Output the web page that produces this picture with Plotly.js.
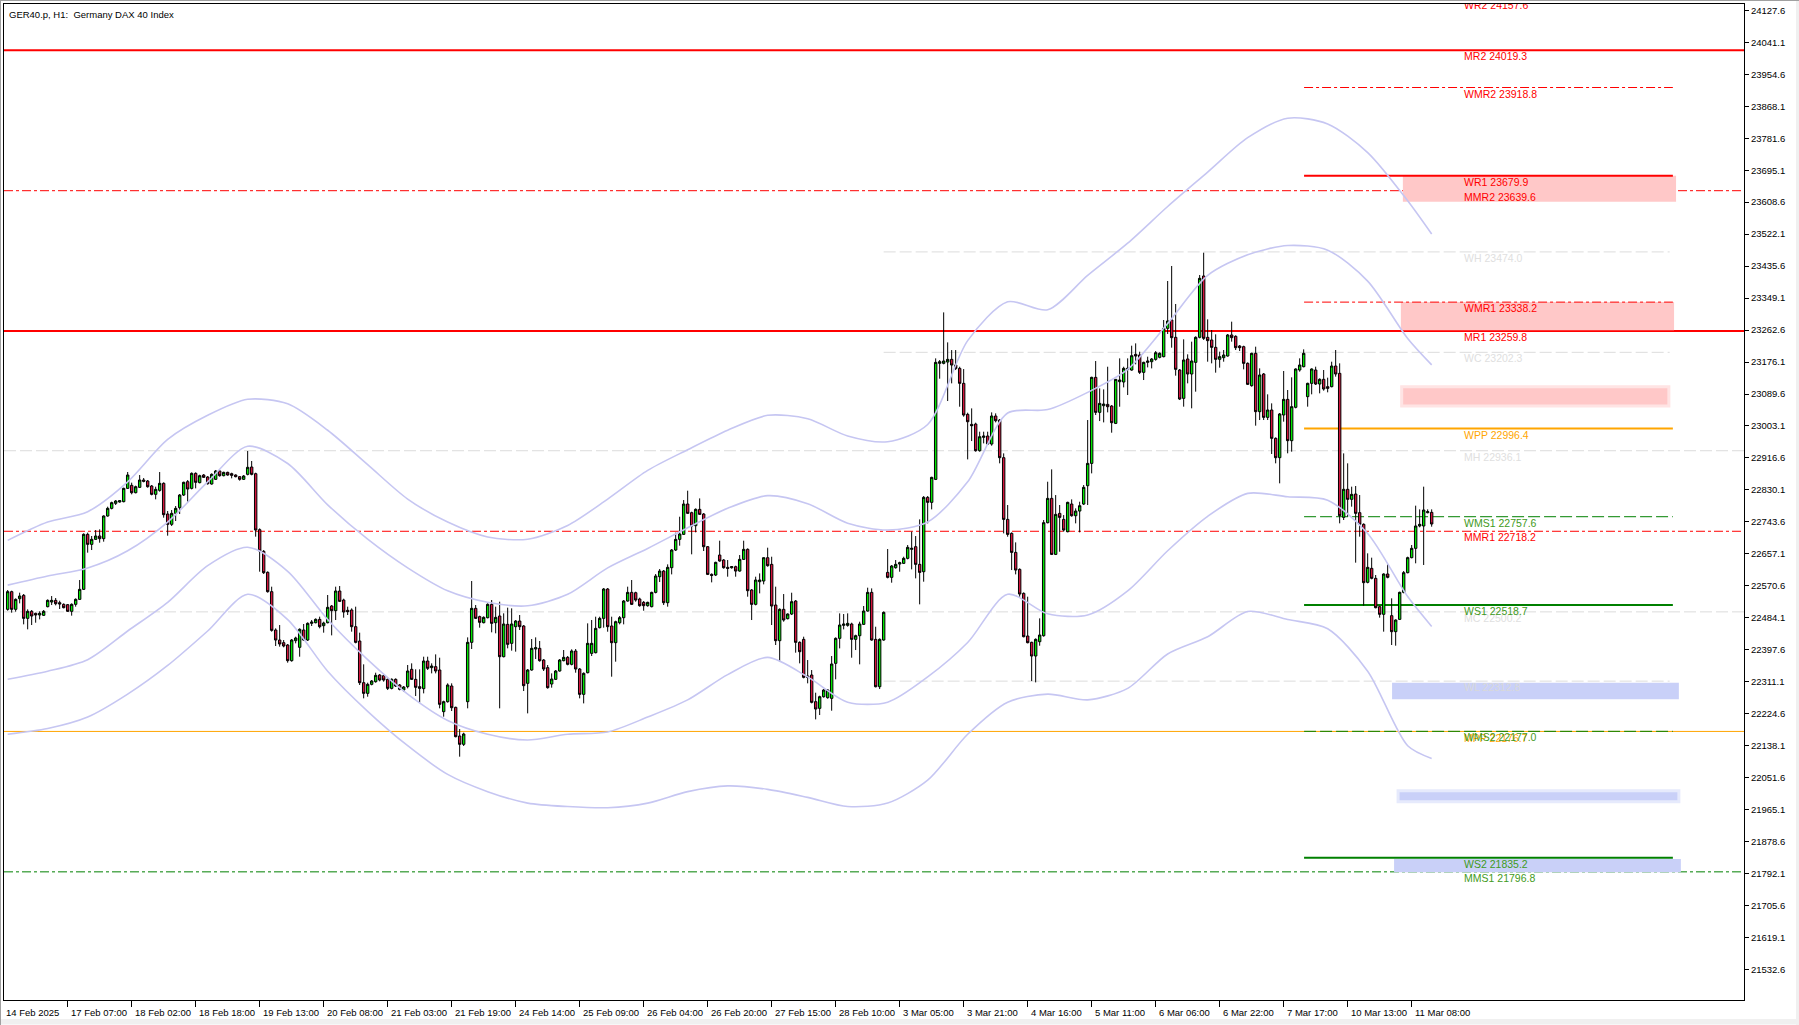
<!DOCTYPE html>
<html><head><meta charset="utf-8">
<script src="https://cdn.plot.ly/plotly-3.0.1.min.js"></script>
<style>html,body{margin:0;padding:0;background:#fff;overflow:hidden}#chart{width:1799px;height:1025px}</style>
</head><body><div id="chart"></div>
<script>
const chartTitle = "GER40.p, H1:  Germany DAX 40 Index";

const barOpen = [
22507.0,22554.8,22507.0,22535.8,22544.9,22482.6,22501.6,22496.2,22491.7,22490.8,
22514.2,22526.8,22531.3,22525.0,22520.5,22519.6,22501.6,22520.5,22534.0,22561.1,
22709.9,22682.8,22696.4,22705.4,22698.2,22759.5,22780.2,22793.8,22797.4,22798.3,
22834.3,22842.5,22822.6,22837.0,22856.9,22854.2,22840.7,22818.1,22828.9,22847.9,
22764.9,22737.0,22766.7,22782.0,22816.3,22852.4,22834.3,22874.9,22849.7,22870.4,
22865.0,22846.1,22858.7,22881.2,22868.6,22877.6,22874.0,22870.4,22865.9,22858.7,
22872.2,22892.1,22874.0,22722.5,22663.9,22607.1,22554.8,22451.1,22424.0,22416.8,
22410.5,22368.1,22422.2,22404.2,22451.1,22424.0,22469.1,22470.9,22479.9,22462.8,
22470.9,22516.0,22503.4,22556.6,22532.2,22504.3,22505.2,22460.1,22421.3,22308.6,
22279.7,22304.1,22311.3,22329.3,22327.5,22317.6,22293.2,22317.6,22302.3,22288.7,
22297.8,22344.7,22317.6,22297.8,22292.4,22367.2,22349.2,22351.9,22342.9,22230.2,
22257.2,22299.6,22241.9,22164.3,22141.8,22257.2,22417.7,22509.7,22487.2,22470.9,
22484.4,22520.5,22470.9,22489.0,22378.9,22466.4,22415.0,22460.1,22475.4,22461.9,
22306.8,22342.9,22399.7,22401.5,22369.9,22349.2,22305.0,22317.6,22340.2,22368.1,
22377.1,22358.2,22394.3,22345.5,22277.0,22335.6,22387.9,22389.7,22457.4,22482.6,
22562.0,22461.9,22416.8,22470.9,22484.4,22529.5,22552.9,22552.0,22534.9,22525.9,
22516.9,22514.2,22552.9,22595.3,22610.6,22525.0,22619.7,22667.5,22696.3,22709.9,
22791.9,22768.5,22733.3,22777.5,22764.9,22676.5,22601.6,22599.8,22653.9,22640.4,
22620.6,22619.7,22622.4,22610.6,22642.2,22669.3,22559.3,22520.5,22581.8,22583.6,
22646.7,22628.7,22518.7,22422.2,22507.0,22481.7,22494.3,22529.5,22417.7,22425.8,
22326.6,22329.3,22257.2,22239.1,22270.7,22268.0,22266.2,22360.9,22428.5,22463.7,
22463.7,22467.3,22425.8,22435.7,22466.4,22502.4,22552.9,22425.8,22297.7,22424.0,
22607.0,22593.5,22619.7,22629.6,22631.4,22644.9,22669.3,22676.5,22628.7,22608.8,
22809.9,22796.4,22858.6,23172.5,23172.5,23176.1,23183.3,23168.0,23158.9,23118.4,
23034.5,23007.4,23008.3,22936.2,22972.3,22975.9,22954.2,23030.0,23019.1,22917.3,
22750.4,22712.5,22661.1,22615.1,22550.2,22434.8,22417.7,22380.7,22419.5,22435.7,
22741.4,22807.2,22655.7,22766.6,22750.4,22717.1,22791.9,22760.3,22772.9,22791.9,
22841.5,22901.9,23134.6,23039.9,23057.9,23061.5,23057.0,23010.1,23122.9,23122.0,
23156.2,23154.4,23196.8,23195.0,23148.1,23175.2,23177.0,23183.3,23188.8,23190.6,
23267.2,23289.8,23242.9,23154.5,23077.8,23184.3,23143.7,23175.2,23242.9,23408.8,
23242.9,23235.7,23215.8,23183.4,23187.9,23192.4,23249.2,23245.6,23219.4,23217.6,
23172.5,23112.1,23199.6,23041.8,23143.7,23026.4,23046.3,22969.6,22917.3,23032.8,
23075.1,22963.3,23053.5,23154.5,23163.5,23082.4,23118.4,23154.5,23116.6,23129.3,
23109.4,23109.4,23165.3,23145.5,22755.9,22831.7,22804.6,22819.0,22768.5,22737.0,
22580.1,22617.9,22590.9,22514.2,22493.5,22602.6,22489.9,22446.6,22479.9,22553.0,
22606.2,22646.8,22672.0,22732.5,22732.5,22768.5,22769.4];

const barHigh = [
22559.3,22557.5,22536.7,22552.1,22548.5,22507.0,22505.2,22498.0,22501.6,22505.2,
22534.0,22543.0,22537.6,22530.4,22523.2,22521.4,22523.2,22536.7,22586.3,22712.6,
22714.4,22705.4,22721.6,22723.4,22761.3,22784.7,22798.3,22802.8,22802.8,22836.1,
22878.5,22849.7,22841.6,22870.4,22862.3,22856.9,22843.4,22838.8,22878.5,22850.6,
22773.0,22775.7,22786.5,22819.0,22852.4,22856.9,22877.6,22877.6,22871.3,22873.1,
22867.7,22874.9,22884.0,22883.0,22879.4,22879.4,22876.7,22872.2,22867.7,22870.4,
22935.3,22908.3,22876.7,22726.1,22667.5,22609.8,22568.3,22455.6,22464.6,22424.0,
22413.2,22426.7,22433.0,22455.6,22467.3,22471.8,22478.1,22482.6,22487.2,22473.6,
22545.8,22518.7,22568.3,22570.1,22535.8,22514.2,22509.7,22514.2,22443.9,22358.2,
22308.6,22315.8,22335.6,22332.0,22330.2,22320.3,22320.3,22320.3,22305.0,22299.6,
22356.4,22360.9,22344.7,22344.7,22378.9,22378.9,22360.9,22385.2,22376.2,22259.9,
22306.8,22306.8,22243.7,22183.2,22173.3,22431.2,22583.6,22518.7,22489.9,22488.1,
22523.2,22532.2,22514.2,22527.7,22496.2,22511.5,22509.7,22478.1,22491.7,22464.6,
22345.6,22426.7,22431.2,22421.3,22372.6,22356.4,22333.8,22342.9,22372.6,22397.0,
22380.7,22398.8,22399.7,22348.2,22336.5,22469.1,22478.1,22487.1,22487.1,22564.7,
22564.7,22487.1,22476.3,22488.9,22532.2,22568.3,22586.3,22554.7,22538.5,22529.5,
22527.7,22554.7,22602.5,22616.1,22613.4,22628.7,22670.2,22714.4,22757.6,22802.7,
22828.0,22771.2,22780.2,22807.2,22767.6,22678.3,22604.3,22635.9,22692.7,22643.1,
22640.4,22624.2,22625.1,22653.9,22692.7,22672.0,22562.0,22595.3,22604.3,22647.6,
22673.8,22649.4,22568.3,22509.7,22548.4,22496.1,22552.0,22532.2,22420.4,22433.0,
22369.9,22342.8,22281.5,22273.4,22291.4,22291.4,22380.7,22431.2,22496.1,22494.3,
22496.1,22470.9,22438.4,22473.6,22516.0,22565.6,22563.7,22460.0,22428.5,22501.5,
22670.2,22626.9,22640.4,22635.9,22649.4,22681.0,22717.1,22705.3,22750.4,22813.5,
22813.5,22865.8,23186.0,23181.5,23310.4,23229.3,23208.5,23208.5,23163.4,23157.1,
23039.0,23050.7,23012.0,22987.6,22987.6,22987.6,23039.9,23037.2,23021.9,22929.0,
22789.2,22715.3,22688.2,22617.9,22552.9,22541.2,22419.5,22428.5,22482.6,22748.6,
22852.3,22885.7,22816.2,22789.2,22762.1,22798.2,22804.5,22780.2,22798.2,22843.3,
23019.2,23136.4,23178.8,23104.8,23102.1,23163.4,23059.7,23130.1,23186.0,23163.4,
23186.0,23220.3,23226.6,23204.0,23177.0,23190.5,23186.9,23205.8,23202.3,23289.8,
23395.3,23435.9,23333.1,23157.2,23237.5,23196.9,23231.2,23245.6,23411.5,23471.9,
23291.6,23262.7,23251.0,23204.1,23208.6,23251.9,23285.3,23248.3,23222.1,23220.3,
23175.2,23201.4,23217.6,23159.0,23146.4,23088.7,23064.3,22972.3,23038.2,23151.8,
23100.4,23134.7,23159.0,23186.1,23210.4,23120.2,23159.0,23163.5,23132.0,23154.5,
23133.8,23177.0,23208.6,23172.5,22929.0,22902.0,22838.9,22840.7,22816.3,22739.7,
22658.5,22646.8,22599.9,22516.9,22604.4,22628.8,22536.8,22479.9,22554.8,22610.7,
22649.5,22681.0,22787.5,22777.5,22838.9,22777.5,22777.5];

const barLow = [
22503.4,22498.0,22500.7,22523.2,22466.4,22452.9,22464.6,22470.9,22479.9,22489.0,
22512.4,22518.7,22517.8,22507.9,22509.7,22499.8,22489.9,22514.2,22532.2,22559.3,
22660.3,22667.5,22694.6,22687.3,22690.1,22757.7,22777.5,22789.2,22795.6,22796.5,
22832.5,22818.1,22820.8,22835.2,22850.6,22836.1,22815.4,22804.6,22825.3,22755.0,
22706.3,22732.4,22746.0,22764.9,22813.6,22798.3,22831.6,22834.3,22847.9,22862.3,
22844.3,22844.3,22856.9,22865.9,22866.8,22868.6,22861.4,22864.1,22855.1,22856.9,
22869.5,22869.5,22703.6,22608.9,22602.6,22552.1,22446.6,22407.8,22406.0,22404.2,
22362.7,22365.4,22415.0,22378.9,22422.2,22421.3,22461.9,22469.1,22455.6,22443.9,
22469.1,22436.6,22478.1,22526.8,22484.4,22491.7,22446.6,22415.0,22302.3,22266.2,
22270.7,22301.4,22308.6,22312.2,22311.3,22288.7,22290.5,22296.9,22287.8,22284.2,
22293.2,22315.8,22272.5,22254.5,22279.7,22342.9,22333.8,22333.8,22239.2,22216.6,
22254.5,22231.9,22160.7,22108.4,22137.3,22239.2,22399.7,22480.8,22457.4,22469.1,
22482.6,22444.8,22442.1,22239.2,22377.1,22401.5,22395.2,22392.5,22451.1,22286.0,
22225.6,22341.1,22372.6,22365.4,22340.2,22292.4,22295.1,22315.8,22338.4,22366.3,
22355.5,22355.5,22335.6,22266.2,22252.6,22333.8,22380.7,22387.9,22455.5,22457.4,
22446.5,22324.8,22365.4,22466.4,22466.4,22527.7,22518.7,22527.7,22514.2,22503.3,
22514.2,22512.4,22550.2,22580.9,22518.7,22514.2,22601.6,22664.8,22679.2,22708.1,
22764.9,22655.8,22715.3,22762.2,22664.8,22599.8,22580.0,22597.1,22635.9,22617.0,
22595.3,22617.0,22595.3,22608.8,22640.4,22541.2,22478.1,22517.8,22550.2,22574.6,
22622.4,22464.6,22410.5,22365.4,22473.6,22479.9,22491.6,22389.7,22360.9,22320.3,
22306.8,22252.6,22209.3,22221.1,22268.0,22265.3,22232.8,22317.6,22401.4,22452.8,
22460.1,22376.2,22396.9,22358.2,22464.6,22500.6,22422.2,22295.9,22291.4,22422.2,
22590.8,22579.1,22617.0,22608.8,22629.6,22642.2,22615.1,22590.8,22520.5,22581.8,
22739.6,22777.5,22856.8,23131.0,23169.8,23070.6,23118.4,23154.4,23055.2,23028.2,
22912.7,22962.3,22933.5,22933.5,22956.0,22951.5,22949.7,23012.8,22902.0,22712.5,
22703.5,22613.3,22601.6,22541.2,22431.2,22415.0,22313.0,22309.4,22408.6,22433.0,
22739.6,22653.9,22653.9,22662.9,22717.1,22715.3,22757.6,22739.6,22715.3,22789.2,
22789.2,22874.9,23032.7,23016.4,23012.8,23039.9,22984.9,23008.3,23055.2,23107.5,
23086.8,23152.6,23169.8,23143.6,23127.4,23161.6,23158.9,23179.7,23186.1,23188.8,
23251.9,23214.9,23139.2,23073.3,23055.3,23118.4,23050.8,23095.9,23240.2,23235.7,
23177.0,23172.5,23147.3,23160.8,23177.0,23190.6,23231.2,23208.6,23205.9,23156.3,
23113.9,23109.4,23003.9,23019.2,23019.2,23019.2,22927.3,22902.0,22847.9,23014.7,
22929.1,22933.6,23050.8,23150.0,23161.7,23055.3,23088.7,23113.9,23091.4,23098.6,
23094.1,23107.6,23136.5,22739.7,22748.7,22757.7,22784.8,22633.3,22703.6,22516.9,
22577.4,22588.2,22509.7,22484.5,22446.6,22590.9,22410.5,22408.7,22478.1,22550.3,
22604.4,22645.0,22631.5,22728.9,22627.0,22766.7,22730.6];

const barClose = [
22554.8,22507.0,22534.0,22543.0,22482.6,22501.6,22489.0,22491.7,22496.2,22501.6,
22531.3,22531.3,22522.3,22521.4,22511.5,22501.6,22520.5,22534.0,22561.1,22709.9,
22682.8,22696.4,22705.4,22698.2,22759.5,22780.2,22795.6,22800.1,22801.0,22834.3,
22870.4,22822.6,22838.8,22856.9,22853.3,22838.8,22818.1,22831.6,22847.9,22763.1,
22737.0,22766.7,22780.2,22816.3,22850.6,22832.5,22874.9,22850.6,22868.6,22864.1,
22847.0,22872.2,22881.2,22868.6,22877.6,22870.4,22869.5,22865.9,22858.7,22867.7,
22891.2,22872.2,22721.6,22664.8,22606.2,22554.8,22450.2,22424.0,22413.2,22407.8,
22368.1,22424.0,22429.4,22452.9,22424.0,22469.1,22472.7,22479.9,22460.1,22470.0,
22512.4,22503.4,22556.6,22528.6,22499.8,22500.7,22460.1,22417.7,22308.6,22279.7,
22304.1,22313.1,22328.4,22315.8,22315.8,22293.2,22317.6,22299.6,22290.5,22296.9,
22340.2,22317.6,22296.0,22293.2,22367.2,22347.4,22353.7,22340.2,22250.0,22257.2,
22302.3,22240.9,22162.5,22141.8,22169.7,22417.7,22509.7,22482.6,22471.8,22485.3,
22520.5,22469.1,22485.3,22378.9,22467.3,22412.3,22467.3,22475.4,22460.1,22300.5,
22342.9,22401.5,22403.3,22368.1,22345.6,22295.1,22318.5,22340.2,22369.9,22377.1,
22358.2,22394.3,22345.6,22277.0,22333.8,22415.0,22415.0,22455.5,22482.6,22562.0,
22460.1,22416.8,22473.6,22484.4,22529.5,22552.9,22520.5,22532.2,22516.9,22516.9,
22525.9,22552.9,22597.1,22610.6,22525.0,22620.6,22667.5,22696.3,22710.8,22791.9,
22766.7,22732.4,22777.5,22764.0,22676.5,22601.6,22598.9,22634.1,22637.7,22619.7,
22617.9,22622.4,22610.6,22642.2,22669.3,22557.4,22520.5,22586.3,22586.3,22646.7,
22625.1,22516.0,22422.2,22507.0,22478.1,22494.3,22527.7,22417.7,22392.4,22323.0,
22323.0,22255.4,22237.3,22270.7,22288.7,22288.7,22359.1,22428.5,22464.6,22467.3,
22469.1,22425.8,22435.7,22467.3,22502.4,22552.9,22424.0,22297.7,22425.8,22498.8,
22593.5,22624.2,22628.7,22633.2,22644.9,22674.7,22672.0,22628.7,22607.0,22809.9,
22796.4,22864.0,23175.2,23177.0,23178.8,23183.3,23168.0,23158.9,23118.4,23032.7,
23014.6,23003.8,22936.2,22974.0,22975.9,22954.2,23030.0,23017.3,22917.3,22750.4,
22709.8,22661.1,22613.3,22548.4,22433.0,22416.8,22380.7,22425.8,22437.5,22741.4,
22807.2,22655.7,22763.9,22755.8,22721.6,22796.4,22760.3,22772.9,22787.4,22837.0,
22901.9,23134.6,23039.9,23064.2,23062.4,23055.2,23012.0,23129.2,23127.4,23158.9,
23158.9,23193.2,23192.3,23148.1,23175.2,23178.8,23184.2,23201.3,23199.6,23267.2,
23287.1,23242.0,23156.3,23076.0,23181.6,23143.7,23178.8,23242.9,23402.5,23240.2,
23233.9,23215.8,23183.4,23190.6,23195.1,23249.2,23242.0,23214.9,23214.9,23172.5,
23115.7,23199.6,23041.8,23141.0,23026.4,23046.3,22969.6,22917.3,23035.5,23075.1,
22963.3,23055.3,23157.2,23168.0,23199.6,23118.4,23157.2,23116.6,23129.3,23103.1,
23104.9,23165.3,23143.7,22760.4,22831.7,22804.6,22818.1,22766.7,22737.0,22579.2,
22620.6,22590.9,22511.5,22493.5,22602.6,22593.6,22446.6,22478.1,22553.0,22606.2,
22646.8,22672.0,22732.5,22737.0,22775.7,22771.2,22737.9];

const xTickBars = [15,31,47,63,79,95,111,127,143,159,175,191,207,223,239,255,271,287,303,319,335,351];
const xTickLabels = ["17 Feb 07:00","18 Feb 02:00","18 Feb 18:00","19 Feb 13:00","20 Feb 08:00","21 Feb 03:00","21 Feb 19:00","24 Feb 14:00","25 Feb 09:00","26 Feb 04:00","26 Feb 20:00","27 Feb 15:00","28 Feb 10:00","3 Mar 05:00","3 Mar 21:00","4 Mar 16:00","5 Mar 11:00","6 Mar 06:00","6 Mar 22:00","7 Mar 17:00","10 Mar 13:00","11 Mar 08:00"];
const firstDateLabel = "14 Feb 2025";

const yTickValues = [24127.6,24041.1,23954.6,23868.1,23781.6,23695.1,23608.6,23522.1,23435.6,23349.1,23262.6,23176.1,23089.6,23003.1,22916.6,22830.1,22743.6,22657.1,22570.6,22484.1,22397.6,22311.1,22224.6,22138.1,22051.6,21965.1,21878.6,21792.1,21705.6,21619.1,21532.6];

const bandBars = [0,10,20,30,40,50,60,70,80,90,100,110,120,130,140,150,160,170,180,190,200,210,220,230,240,250,260,270,280,290,300,310,320,330,340,350,356];
const bandOuterUpper = [22693.6,22743.2,22771.2,22851.9,22966.7,23031.9,23075.3,23062.9,22991.5,22898.4,22805.3,22743.2,22702.9,22696.7,22733.9,22805.3,22882.9,22938.8,22991.5,23031.9,23022.6,22976.0,22960.5,23007.0,23234.0,23339.2,23317.4,23410.6,23497.5,23596.8,23689.9,23783.0,23835.8,23820.3,23742.7,23612.3,23522.3];
const bandInnerUpper = [22572.5,22597.3,22619.1,22665.6,22743.2,22851.9,22948.1,22901.5,22789.8,22696.7,22619.1,22557.0,22526.0,22516.6,22547.7,22619.1,22671.8,22727.7,22780.5,22814.6,22792.9,22740.1,22721.5,22743.2,22851.9,23038.1,23047.4,23094.0,23156.0,23280.2,23410.6,23466.4,23491.3,23478.8,23395.0,23239.8,23168.5];
const bandInnerLower = [22318.0,22339.7,22370.8,22448.4,22526.0,22625.3,22674.9,22609.8,22479.4,22370.8,22277.6,22206.3,22169.0,22153.5,22169.0,22175.2,22215.6,22262.1,22330.4,22377.0,22324.2,22255.9,22255.9,22324.2,22417.3,22547.7,22494.9,22491.8,22557.0,22665.6,22758.7,22820.8,22811.5,22802.2,22712.2,22541.5,22460.8];
const bandOuterLower = [22169.0,22184.5,22215.6,22277.6,22355.2,22448.4,22547.7,22479.4,22339.7,22231.1,22138.0,22060.4,22013.8,21982.8,21973.5,21970.4,21982.8,22013.8,22029.3,22020.0,21998.3,21973.5,21982.8,22044.8,22169.0,22255.9,22277.6,22262.1,22293.2,22386.3,22432.8,22501.1,22479.4,22454.6,22339.7,22138.0,22103.8];

const monthlyNames = ["MR2","MMR2","MR1","MH","MMR1","MC","MPP","MMS1"];
const monthlyValues = [24019.3,23639.6,23259.8,22936.1,22718.2,22500.2,22176.7,21796.8];
const weeklyNames = ["WR2","WMR2","WR1","WH","WMR1","WC","WPP","WMS1","WS1","WL","WMS2","WS2"];
const weeklyValues = [24157.6,23918.8,23679.9,23474.0,23338.2,23202.3,22996.4,22757.6,22518.7,22312.8,22177.0,21835.2];

const zoneTop = [23679.9,23338.2,23109.0,22308.5,22016.0,21831.6];
const zoneBottom = [23610.0,23262.0,23057.0,22263.6,21986.5,21795.6];

/* ---------- layout / style (not data) ---------- */
const W = 1799, H = 1025, ML = 4, MR = 55, MT = 4, MB = 25;
const plotW = W - ML - MR, plotH = H - MT - MB;
const PX_PER_BAR = 4, FIRST_BAR_PX = 3.67;
const xMin = -FIRST_BAR_PX / PX_PER_BAR, xMax = xMin + plotW / PX_PER_BAR;
const yMax = 24144.7, PX_PER_POINT = 0.36963;
const yMin = yMax - plotH / PX_PER_POINT;
const LABEL_BAR = 364.1, LABEL_DROP_PX = 7.5;
const WEEK_START = 324.1, WEEK_END = 416.3, PREV_WEEK_START = 219.0, GRAY_END = 415.5;

const RED = "#FF0000", ORANGE = "#FFA500", GREEN = "#008000", GRAY = "#DCDCDC";
const DASHDOT = "9px,3px,3px,3px", DASH = "12px,4px";
const LEVEL_STYLE = {
  MR2:{c:RED,w:2,d:"solid",tc:RED}, MMR2:{c:RED,w:1,d:DASHDOT,tc:RED}, MR1:{c:RED,w:2,d:"solid",tc:RED},
  MH:{c:GRAY,w:1,d:DASH,tc:"#E0E0E0"}, MMR1:{c:RED,w:1,d:DASHDOT,tc:RED}, MC:{c:GRAY,w:1,d:DASH,tc:"#E0E0E0"},
  MPP:{c:ORANGE,w:1,d:"solid",tc:ORANGE}, MMS1:{c:GREEN,w:1,d:DASHDOT,tc:"#3F9A22"},
  WR2:{c:RED,w:2,d:"solid",tc:RED}, WMR2:{c:RED,w:1,d:DASHDOT,tc:RED}, WR1:{c:RED,w:2,d:"solid",tc:RED},
  WH:{c:GRAY,w:1,d:DASH,tc:"#E0E0E0"}, WMR1:{c:RED,w:1,d:DASHDOT,tc:RED}, WC:{c:GRAY,w:1,d:DASH,tc:"#E0E0E0"},
  WPP:{c:ORANGE,w:2,d:"solid",tc:ORANGE}, WMS1:{c:GREEN,w:1,d:DASH,tc:"#3F9A22"}, WS1:{c:GREEN,w:2,d:"solid",tc:"#3F9A22"},
  WL:{c:GRAY,w:1,d:DASH,tc:"#D8D8D8"}, WMS2:{c:GREEN,w:1,d:DASH,tc:"#3F9A22"}, WS2:{c:GREEN,w:2,d:"solid",tc:"#3F9A22"}
};
const ZONE_STYLE = [
  {x0:348.8,x1:417.1,fill:"#FFC8C8"},
  {x0:348.3,x1:416.6,fill:"#FFC8C8"},
  {x0:348.5,x1:415.3,fill:"#FFC8C8",halo:"#FFE4E4"},
  {x0:346.1,x1:417.8,fill:"#C9D0F8"},
  {x0:347.6,x1:417.8,fill:"#C9D0F8",halo:"#E6EAFC"},
  {x0:346.6,x1:418.3,fill:"#C9D0F8"}
];
const FONT = "Liberation Sans, Arial, sans-serif";

const shapes = [];
zoneTop.forEach((t, k) => {
  const s = ZONE_STYLE[k];
  shapes.push({type:"rect", layer:"below", xref:"x", yref:"y", x0:s.x0, x1:s.x1, y0:zoneBottom[k], y1:t,
    fillcolor:s.fill, line:{width:s.halo?3:0, color:s.halo||s.fill}});
});
function lineShape(name, v, x0, x1, xref){
  const st = LEVEL_STYLE[name];
  return {type:"line", layer:"below", xref:xref, yref:"y", x0:x0, x1:x1, y0:v, y1:v,
          line:{color:st.c, width:st.w, dash:st.d}};
}
const grayFirst = (n) => (LEVEL_STYLE[n].c === GRAY ? 0 : 1);
const order = [];
monthlyNames.forEach((n,k)=>order.push({n, v:monthlyValues[k], m:true}));
weeklyNames.forEach((n,k)=>order.push({n, v:weeklyValues[k], m:false}));
order.sort((a,b)=>grayFirst(a.n)-grayFirst(b.n) || (a.n==="MPP") - (b.n==="MPP"));
order.forEach(o => {
  if (o.m) shapes.push(lineShape(o.n, o.v, 0, 1, "paper"));
  else if (LEVEL_STYLE[o.n].c === GRAY) shapes.push(lineShape(o.n, o.v, PREV_WEEK_START, GRAY_END, "x"));
  else shapes.push(lineShape(o.n, o.v, WEEK_START, WEEK_END, "x"));
});
shapes.push({type:"rect", xref:"paper", yref:"paper", x0:-ML/plotW, x1:(W-ML)/plotW, y0:-(MB-0.5)/plotH, y1:-(MB-6)/plotH, fillcolor:"#F0F0F0", line:{width:0}});
shapes.push({type:"rect", xref:"paper", yref:"paper", x0:(W-ML-3)/plotW, x1:(W-ML)/plotW, y0:-(MB)/plotH, y1:(plotH+MT)/plotH, fillcolor:"#F0F0F0", line:{width:0}});
shapes.push({type:"line", xref:"paper", yref:"paper", x0:-ML/plotW, x1:(W-ML)/plotW, y0:(plotH+MT-0.5)/plotH, y1:(plotH+MT-0.5)/plotH, line:{color:"#A0A0A0", width:1}});
shapes.push({type:"line", xref:"paper", yref:"paper", x0:-(ML-0.5)/plotW, x1:-(ML-0.5)/plotW, y0:-(MB)/plotH, y1:(plotH+MT)/plotH, line:{color:"#A0A0A0", width:1}});

const idx = barOpen.map((_, i) => i);
const bandStyle = {color:"#C6C6F2", width:1.6, shape:"spline", smoothing:0.8};
const traces = [
  {type:"scatter", mode:"lines", x:bandBars, y:bandOuterUpper, line:bandStyle, hoverinfo:"skip"},
  {type:"scatter", mode:"lines", x:bandBars, y:bandInnerUpper, line:bandStyle, hoverinfo:"skip"},
  {type:"scatter", mode:"lines", x:bandBars, y:bandInnerLower, line:bandStyle, hoverinfo:"skip"},
  {type:"scatter", mode:"lines", x:bandBars, y:bandOuterLower, line:bandStyle, hoverinfo:"skip"},
  {type:"candlestick", x:idx, open:barOpen, high:barHigh, low:barLow, close:barClose,
   increasing:{line:{color:"#000000", width:1}, fillcolor:"#00E600"},
   decreasing:{line:{color:"#000000", width:1}, fillcolor:"#D2143C"},
   whiskerwidth:0, hoverinfo:"skip"}
];
const labNames = monthlyNames.concat(weeklyNames);
const labVals = monthlyValues.concat(weeklyValues);
const drop = LABEL_DROP_PX / PX_PER_POINT;
traces.push({type:"scatter", mode:"text", cliponaxis:true, hoverinfo:"skip",
  x:labNames.map(()=>LABEL_BAR), y:labVals.map(v=>v-drop),
  text:labNames.map((n,k)=>n+" "+labVals[k].toFixed(1)), textposition:"middle right",
  textfont:{family:FONT, size:10.5, color:labNames.map(n=>LEVEL_STYLE[n].tc)}});

const annotations = [
  {xref:"paper", yref:"paper", x:0, y:1, xanchor:"left", yanchor:"top", xshift:3, yshift:-3,
   text:chartTitle, showarrow:false, font:{family:FONT, size:9.5, color:"#000"}},
  {xref:"paper", yref:"paper", x:0, y:0, xanchor:"left", yanchor:"middle", xshift:0, yshift:-12,
   text:firstDateLabel, showarrow:false, font:{family:FONT, size:9.5, color:"#000"}}
];
xTickBars.forEach((b,k)=>annotations.push({xref:"x", yref:"paper", x:b, y:0, xanchor:"left", yanchor:"middle",
  xshift:1, yshift:-12, text:xTickLabels[k], showarrow:false, font:{family:FONT, size:9.5, color:"#000"}}));

const layout = {
  width:W, height:H, margin:{l:ML, r:MR, t:MT, b:MB, pad:0},
  paper_bgcolor:"#FFFFFF", plot_bgcolor:"#FFFFFF", showlegend:false, hovermode:false,
  boxgap:0.15,
  xaxis:{range:[xMin,xMax], showgrid:false, zeroline:false, showline:true, mirror:true, linecolor:"#000", linewidth:1,
         ticks:"outside", ticklen:6, tickcolor:"#000", tickvals:xTickBars, showticklabels:false,
         rangeslider:{visible:false}, fixedrange:true},
  yaxis:{range:[yMin,yMax], side:"right", showgrid:false, zeroline:false, showline:true, mirror:true, linecolor:"#000", linewidth:1,
         ticks:"outside", ticklen:4, tickcolor:"#000", tickvals:yTickValues, ticktext:yTickValues.map(v=>v.toFixed(1)),
         tickfont:{family:FONT, size:9.5, color:"#000"}, fixedrange:true},
  shapes:shapes, annotations:annotations
};
Plotly.newPlot("chart", traces, layout, {staticPlot:true, displayModeBar:false});
</script>
</body></html>
